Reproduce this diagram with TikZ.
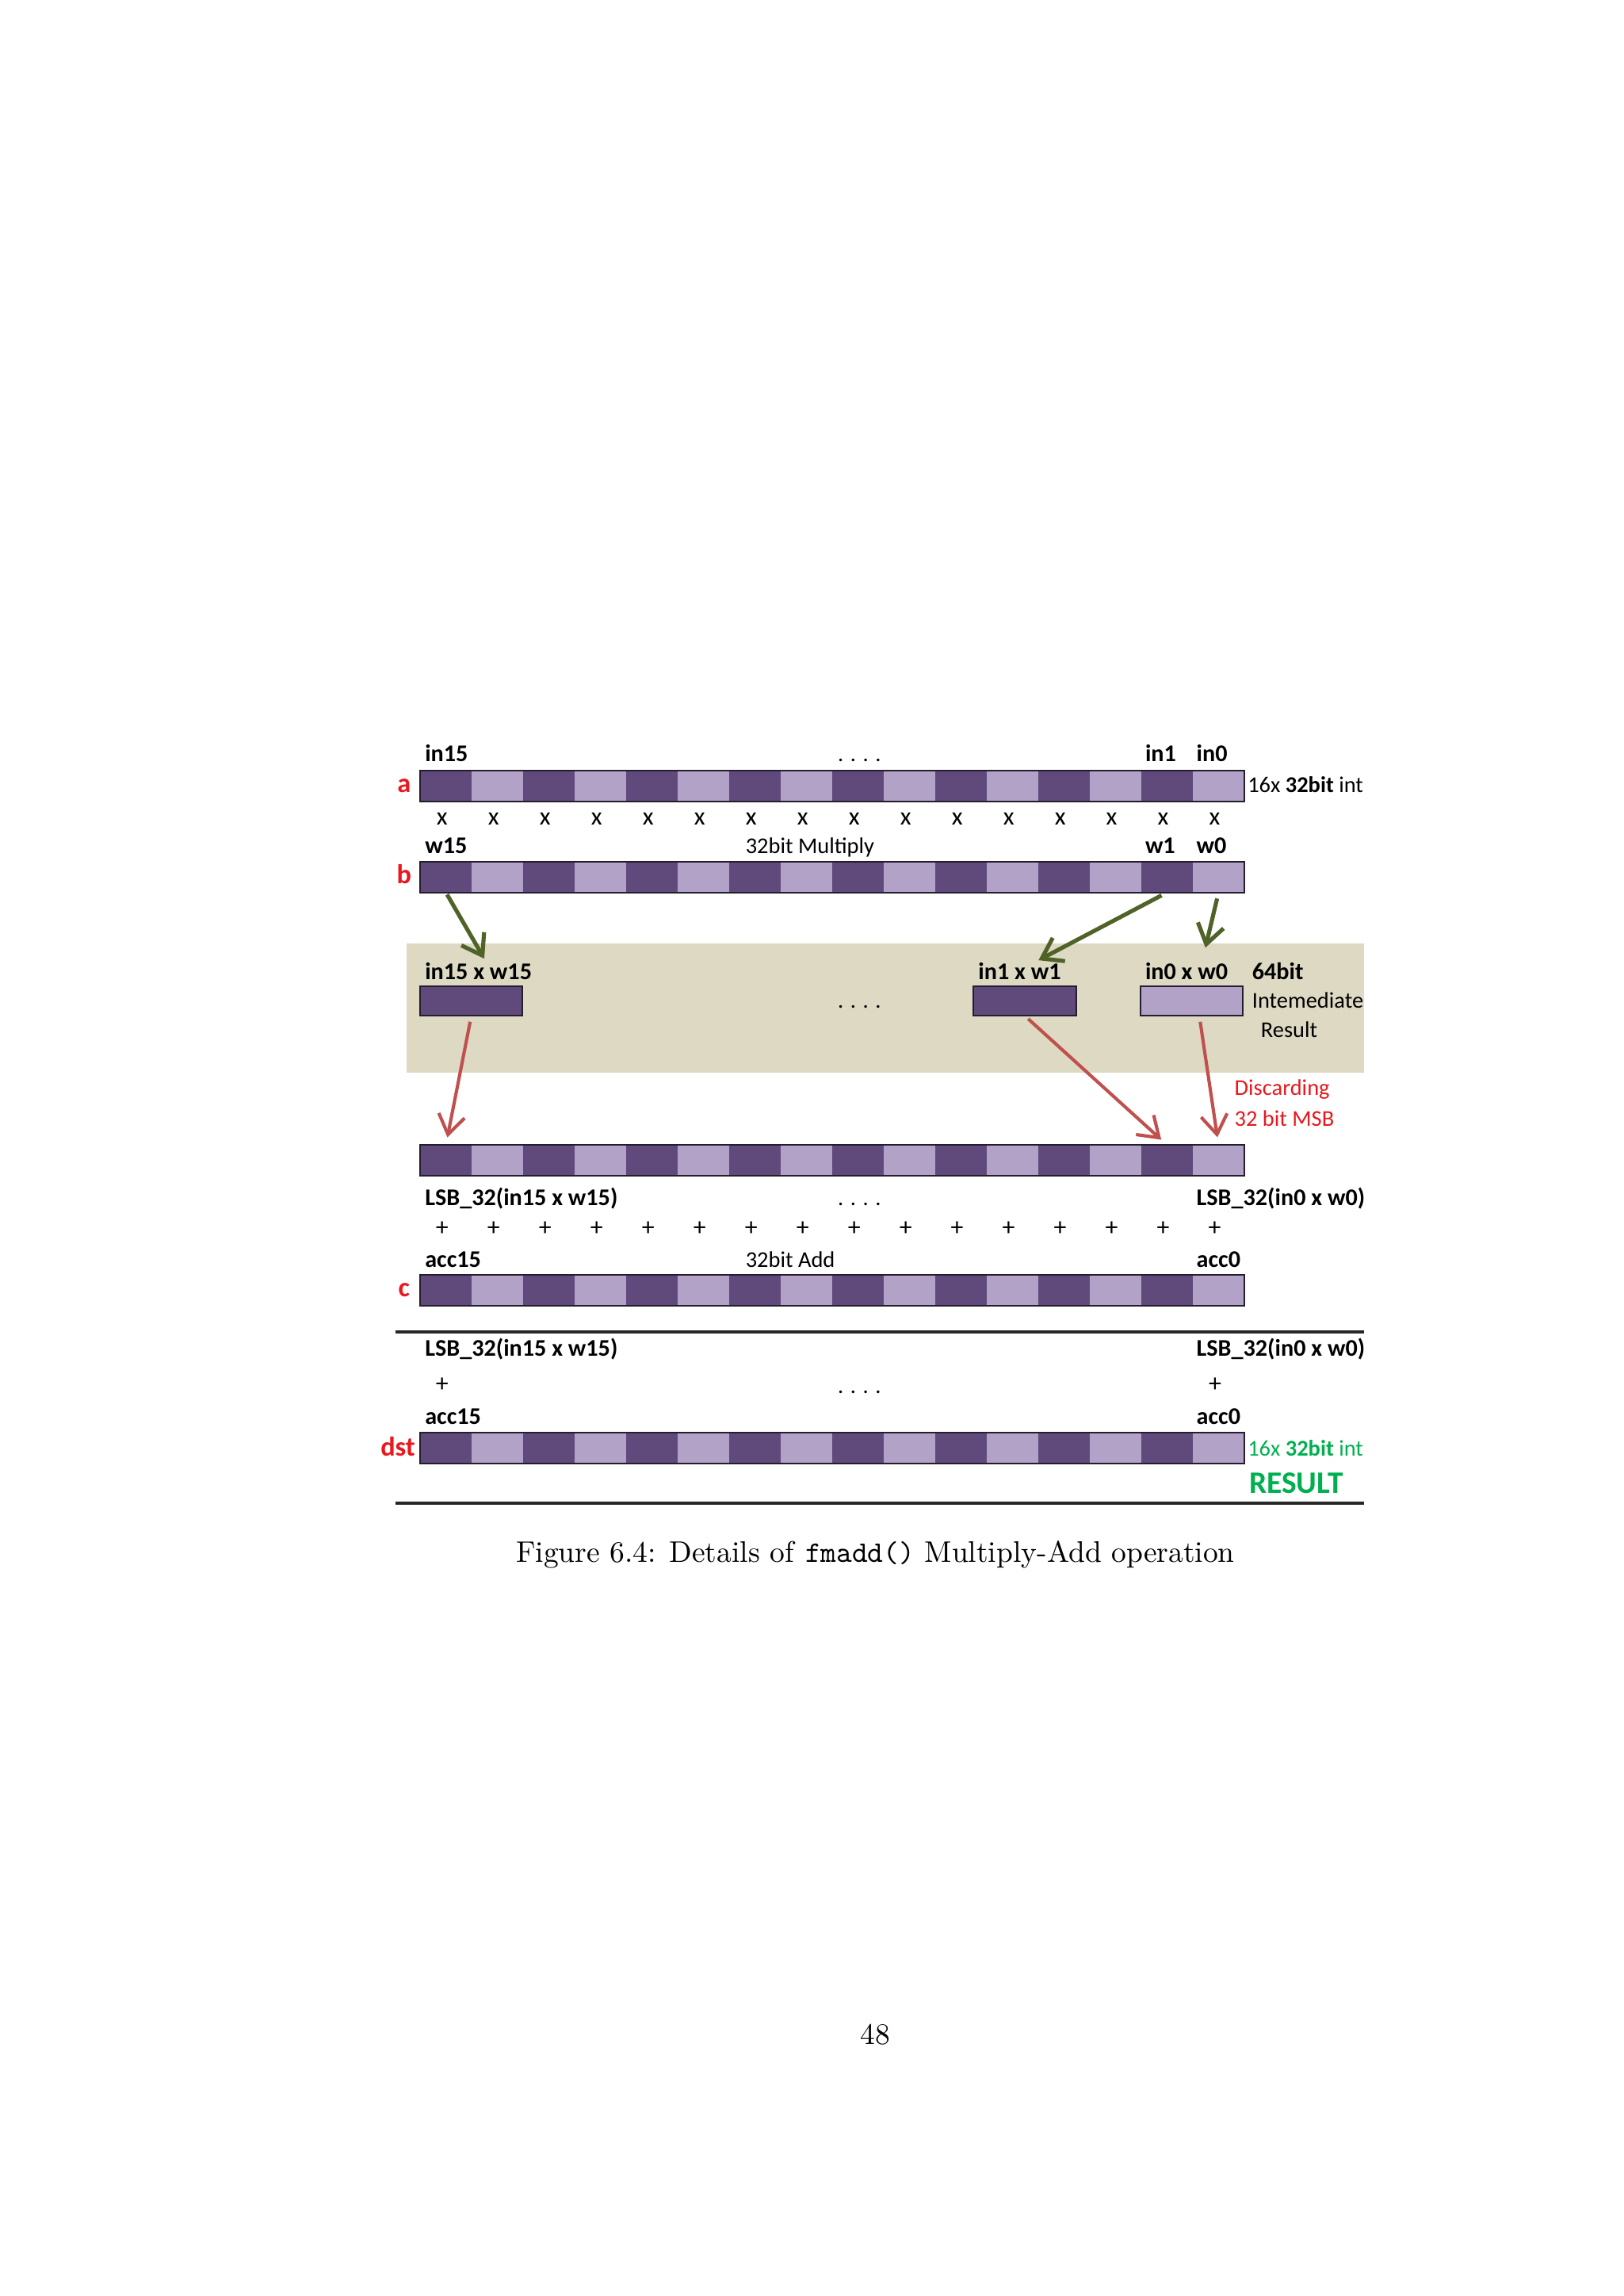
\documentclass[tikz,border=0pt]{standalone}
\usepackage{fontspec}
\newfontfamily\diagfont{Carlito}
\usetikzlibrary{arrows.meta}

\definecolor{cellDark}{RGB}{96,74,123}
\definecolor{cellLight}{RGB}{179,162,199}
\definecolor{barEdge}{RGB}{35,30,45}
\definecolor{bandTan}{RGB}{221,217,195}
\definecolor{arrowGreen}{RGB}{79,98,40}
\definecolor{arrowRed}{RGB}{192,80,77}
\definecolor{textRed}{RGB}{232,24,30}
\definecolor{textGreen}{RGB}{0,176,80}

\tikzset{
  cell/.style={minimum width=6.663mm,minimum height=3.977mm,inner sep=0pt,outer sep=0pt},
  prodbox/.style={minimum width=13.26mm,minimum height=3.8mm,inner sep=0pt,outer sep=0pt,draw=barEdge,line width=0.6pt},
  barline/.style={draw=barEdge,line width=0.6pt},
  lbl/.style={inner sep=0pt,anchor=base west,font=\diagfont\fontsize{8.8}{11}\selectfont\bfseries},
  txt/.style={inner sep=0pt,anchor=base west,font=\diagfont\fontsize{8.3}{10}\selectfont},
  op/.style={inner sep=0pt,anchor=base,font=\diagfont\fontsize{9.3}{11}\selectfont},
  regname/.style={inner sep=0pt,anchor=base,text=textRed,font=\diagfont\fontsize{10}{12}\selectfont\bfseries},
  rule/.style={draw=black!85,line width=1.1pt}
}

\begin{document}
\begin{tikzpicture}[x=0.18936mm,y=-0.18936mm]

  \path [use as bounding box,fill=white] (0,0) rectangle (1109,1568);

  % intermediate 64bit area
  \fill [bandTan] (278,644.4) rectangle (932,732.5);

  % the five 16-lane registers
  \foreach \bar/\yc in {a/536.8,b/599,r/792.4,c/881.3,dst/989}{
    \foreach \n in {0,...,15}{
      \ifodd\n \def\shade{cellDark}\else\def\shade{cellLight}\fi
      \node [cell,fill=\shade] (\bar-\n) at ({304.6+(15-\n)*35.1875},\yc) {};
    }
    \draw [barline] (\bar-15.north west) rectangle (\bar-0.south east);
  }

  \foreach \n in {0,...,15}{
    \node [op] (x-\n) at ({302+(15-\n)*35.1875},563.2) {x};
    \node [op] (plus-\n) at ({302+(15-\n)*35.1875},843.7) {+};
  }

  % register a
  \node [lbl] (l-in15) at (290,519.8) {in15};
  \node [txt] (dots-a) at (572,519.8) {. . . .};
  \node [lbl] (l-in1) at (782,519.8) {in1};
  \node [lbl] (l-in0) at (817,519.8) {in0};
  \node [regname] (name-a) at (276,541) {a};
  \node [txt] (type-a) at (852,541) {16x \textbf{32bit} int};

  % register b
  \node [lbl] (l-w15) at (290,583) {w15};
  \node [txt] (op-mul) at (509,583) {32bit Multiply};
  \node [lbl] (l-w1) at (782,583) {w1};
  \node [lbl] (l-w0) at (817,583) {w0};
  \node [regname] (name-b) at (276,603.5) {b};

  % products
  \node [lbl] (l-p15) at (290,668.8) {in15 x w15};
  \node [lbl] (l-p1) at (668,668.8) {in1 x w1};
  \node [lbl] (l-p0) at (782,668.8) {in0 x w0};
  \node [lbl] (l-64bit) at (855,668.8) {64bit};
  \node [prodbox,fill=cellDark] (p15) at (322,683.6) {};
  \node [prodbox,fill=cellDark] (p1) at (700,683.6) {};
  \node [prodbox,fill=cellLight] (p0) at (814,683.6) {};
  \node [txt] (dots-p) at (572,688.6) {. . . .};
  \node [txt] (l-inter) at (855,688.6) {Intemediate};
  \node [txt] (l-result) at (861,708.4) {Result};
  \node [txt,text=textRed] (l-discard) at (843,748.2) {Discarding};
  \node [txt,text=textRed] (l-msb) at (843,768.9) {32 bit MSB};

  % truncated products and c
  \node [lbl] (l-lsb15) at (290,823.1) {LSB\_32(in15 x w15)};
  \node [txt] (dots-r) at (572,823.1) {. . . .};
  \node [lbl] (l-lsb0) at (817,823.1) {LSB\_32(in0 x w0)};
  \node [lbl] (l-acc15) at (290,865.5) {acc15};
  \node [txt] (op-add) at (509,865.5) {32bit Add};
  \node [lbl] (l-acc0) at (817,865.5) {acc0};
  \node [regname] (name-c) at (276,885.5) {c};

  \coordinate (rule1-w) at (270,909.7);
  \coordinate (rule1-e) at (932,909.7);
  \draw [rule] (rule1-w) -- (rule1-e);

  % result
  \node [lbl] (d-lsb15) at (290,926) {LSB\_32(in15 x w15)};
  \node [lbl] (d-lsb0) at (817,926) {LSB\_32(in0 x w0)};
  \node [op] (d-plus15) at (302,950.3) {+};
  \node [txt] (dots-d) at (572,951.3) {. . . .};
  \node [op] (d-plus0) at (830,950.3) {+};
  \node [lbl] (d-acc15) at (290,972.9) {acc15};
  \node [lbl] (d-acc0) at (817,972.9) {acc0};
  \node [regname,anchor=base east] (name-dst) at (284,994.6) {dst};
  \node [txt,text=textGreen] (type-dst) at (852,994.6) {16x \textbf{32bit} int};
  \node [lbl,text=textGreen,font=\diagfont\fontsize{11.5}{13}\selectfont\bfseries] (l-res) at (853,1019.8) {RESULT};

  \coordinate (rule2-w) at (270,1026.7);
  \coordinate (rule2-e) at (932,1026.7);
  \draw [rule] (rule2-w) -- (rule2-e);

  \node [anchor=base,inner sep=0pt,font=\fontsize{10.95}{13.6}\selectfont] (caption) at (598,1066.8)
    {Figure 6.4: Details of \texttt{fmadd()} Multiply-Add operation};
  \node [anchor=base,inner sep=0pt,font=\fontsize{10.95}{13.6}\selectfont] (pageno) at (598,1396) {48};

  \path [line width=1.5pt,arrowGreen,->,>={Straight Barb[length=2.5mm,width=3.4mm]}]
    (b-15.south) edge [shorten <=0.3mm,shorten >=0.5mm] ([xshift=1mm]l-p15.north)
    (b-1.south)  edge [shorten <=0.8mm,shorten >=0.5mm] ([xshift=2mm]l-p1.north)
    (b-0.south)  edge [shorten <=0.8mm,shorten >=1.9mm] ([xshift=2mm]l-p0.north);

  \path [line width=1.2pt,arrowRed,->,>={Straight Barb[length=2.5mm,width=3.4mm]}]
    (p15.south) edge [shorten <=0.8mm,shorten >=1mm] (r-15.north)
    (p1.south)  edge [shorten <=0.6mm,shorten >=1mm] (r-1.north)
    ([xshift=1mm]p0.south) edge [shorten <=0.8mm,shorten >=1mm] (r-0.north);
\end{tikzpicture}
\end{document}
